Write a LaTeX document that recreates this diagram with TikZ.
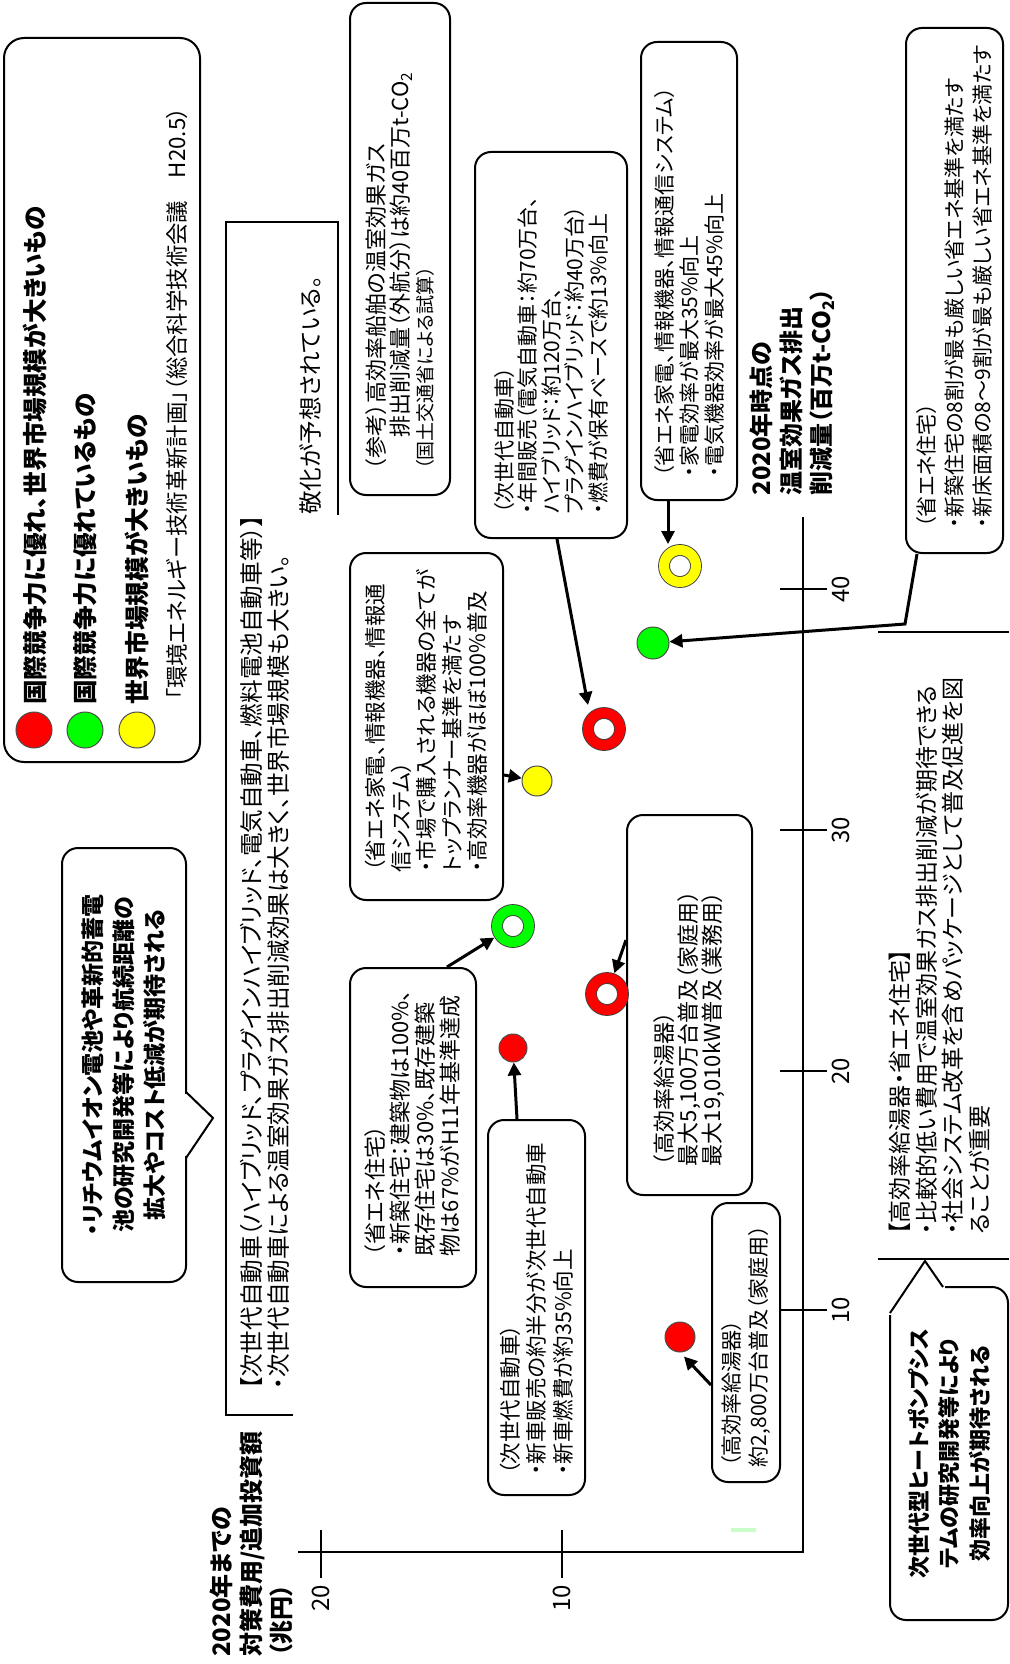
\documentclass[tikz,border=0pt]{standalone}
\usepackage{fontspec}
\setmainfont{Noto Sans CJK JP}[RawFeature=+palt]
\usepackage{tikz}
\usetikzlibrary{arrows.meta}

\definecolor{mkred}{RGB}{255,0,0}
\definecolor{mkgreen}{RGB}{0,255,0}
\definecolor{mkyellow}{RGB}{255,255,0}
\definecolor{faintgreen}{RGB}{200,255,200}

\begin{document}
\begin{tikzpicture}[x=0.5pt, y=-0.5pt, >={Triangle[length=6.5pt,width=6.5pt]}]
	\tikzstyle{every node} = [rotate=90, inner sep=0pt]
	\tikzset{
		box/.style = {draw, line width=1pt, rounded corners=8pt, fill=white},
		ring/.style = {circle, minimum size=16pt, draw=black!75, line width=0.45pt, double=#1, double distance=5pt, fill=white, outer sep=3pt},
		dot/.style = {circle, fill=#1, draw=black!70, line width=0.5pt},
		pointer/.style = {->, line width=1.5pt},
		rule/.style = {line width=0.75pt}
	}
	\useasboundingbox (0,0) rectangle (1009,1664);

	% note on next generation vehicles (open frame)
	\draw [rule] (293,1415) -- (226,1415) -- (226,222) -- (338,222) -- (338,515);
	\node [anchor=west, align=left, font={\fontsize{11.8}{13.5}\selectfont}] (carNote) at (265,1390)
		{【次世代自動車（ハイブリッド、プラグインハイブリッド、電気自動車、燃料電池自動車等）】\\・次世代自動車による温室効果ガス排出削減効果は大きく、世界市場規模も大きい。};
	\node [anchor=west, font={\fontsize{11.8}{13.5}\selectfont}] (carNoteEnd) at (310,515) {敬化が予想されている。};

	% legend
	\node [box, rounded corners=10pt, minimum width=362pt, minimum height=98pt] (legend) at (102,400) {};
	\node [dot=mkred, minimum size=18pt]    (keyRed)    at (34,730)  {};
	\node [dot=mkgreen, minimum size=18pt]  (keyGreen)  at (85,730)  {};
	\node [dot=mkyellow, minimum size=18pt] (keyYellow) at (137,730) {};
	\node [anchor=west, font={\fontsize{12.3}{14}\selectfont\bfseries}] (keyRedTxt)    at (35,705)  {国際競争力に優れ、世界市場規模が大きいもの};
	\node [anchor=west, font={\fontsize{12.3}{14}\selectfont\bfseries}] (keyGreenTxt)  at (85,705)  {国際競争力に優れているもの};
	\node [anchor=west, font={\fontsize{12.3}{14}\selectfont\bfseries}] (keyYellowTxt) at (137,705) {世界市場規模が大きいもの};
	\node [anchor=west, font={\fontsize{11.2}{13}\selectfont}] (keySource) at (177,700) {「環境エネルギー技術革新計画」（総合科学技術会議　H20.5）};

	% callouts with a tail
	\node [box, align=center, minimum width=217pt, minimum height=62pt, font={\fontsize{11.5}{15.5}\selectfont\bfseries}] (battery) at (124,1065)
		{・リチウムイオン電池や革新的蓄電\\池の研究開発等により航続距離の\\拡大やコスト低減が期待される};
	\fill [white] (184,1094) rectangle (189,1156);
	\draw [line width=1pt] (186,1092) -- (213,1118) -- (186,1158);

	\node [box, align=center, minimum width=166.5pt, minimum height=59pt, font={\fontsize{11}{15.25}\selectfont\bfseries}] (heatPump) at (949,1453.5)
		{次世代型ヒートポンプシス\\テムの研究開発等により\\効率向上が期待される};
	\fill [white] (886,1283) rectangle (945,1293);
	\fill [white] (886,1283) rectangle (897,1315);
	\draw [line width=1pt] (890,1313) -- (925,1261) -- (943,1287);

	% measure boxes
	\node [box, align=left, text width=221pt, minimum width=246pt, minimum height=50pt, font={\fontsize{11}{12}\selectfont}] (shipRef) at (400,249)
		{（参考）高効率船舶の温室効果ガス\\\hspace*{1.5em}排出削減量（外航分）は約40百万t-CO\textsubscript{2}\\{\fontsize{9.5}{10}\selectfont （国土交通省による試算）}};
	\node [box, align=left, text width=169pt, minimum width=193pt, minimum height=76pt, font={\fontsize{10.5}{11.75}\selectfont}] (carA) at (551,345)
		{（次世代自動車）\\・年間販売（電気自動車：約70万台、\\ハイブリッド：約120万台、\\プラグインハイブリッド：約40万台）\\・燃費が保有ベースで約13\%向上};
	\node [box, align=left, text width=206pt, minimum width=229pt, minimum height=48pt, font={\fontsize{10.5}{12.5}\selectfont}] (applA) at (689,271)
		{（省エネ家電、情報機器、情報通信システム）\\・家電効率が最大35\%向上\\・電気機器効率が最大45\%向上};
	\node [box, align=left, text width=237.5pt, minimum width=262.5pt, minimum height=48.5pt, font={\fontsize{10.5}{14}\selectfont}] (houseA) at (954.5,290.5)
		{（省エネ住宅）\\・新築住宅の8割が最も厳しい省エネ基準を満たす\\・新床面積の8～9割が最も厳しい省エネ基準を満たす};
	\node [box, align=left, text width=145.5pt, minimum width=173.5pt, minimum height=76.5pt, font={\fontsize{10.75}{12.75}\selectfont}] (applB) at (426.5,726.5)
		{（省エネ家電、情報機器、情報通\\信システム）\\・市場で購入される機器の全てが\\トップランナー基準を満たす\\・高効率機器がほぼ100\%普及};
	\node [box, align=left, text width=128.5pt, minimum width=159.5pt, minimum height=63pt, font={\fontsize{11}{12.5}\selectfont}] (houseB) at (413,1127.5)
		{（省エネ住宅）\\・新築住宅：建築物は100\%、\\既存住宅は30\%、既存建築\\物は67\%がH11年基準達成};
	\node [box, align=left, text width=167.5pt, minimum width=187.5pt, minimum height=48.5pt, font={\fontsize{10.75}{13.25}\selectfont}] (carB) at (536.5,1307.5)
		{（次世代自動車）\\・新車販売の約半分が次世代自動車\\・新車燃費が約35\%向上};
	\node [box, align=left, text width=161pt, minimum width=190pt, minimum height=62.5pt, font={\fontsize{11}{12}\selectfont}] (heaterA) at (689.5,1005)
		{（高効率給湯器）\\最大5,100万台普及（家庭用）\\最大19,010kW普及（業務用）};
	\node [box, align=left, text width=124.5pt, minimum width=139.5pt, minimum height=34pt, font={\fontsize{10.5}{13.5}\selectfont}] (heaterB) at (746,1342.5)
		{（高効率給湯器）\\約2,800万台普及（家庭用）};

	% package note
	\draw [rule] (878,632) -- (1009,632);
	\draw [rule] (878,1259) -- (1009,1259);
	\node [anchor=west, align=left, font={\fontsize{11.5}{13.25}\selectfont}] (package) at (939.5,1235)
		{【高効率給湯器・省エネ住宅】\\・比較的低い費用で温室効果ガス排出削減が期待できる\\・社会システム改革を含めパッケージとして普及促進を図\\ることが重要};

	% axes
	\draw [line width=1pt] (803,517) -- (803,1552) -- (298,1552);
	\foreach \py/\val in {589/40, 830/30, 1071/20, 1310/10} {
		\draw [line width=1pt] (780,\py) -- (827,\py);
		\node [font={\fontsize{12}{14}\selectfont}] (xt\val) at (841,\py) {\val};
	}
	\foreach \px/\val in {321/20, 562/10} {
		\draw [line width=1pt] (\px,1530) -- (\px,1578);
		\node [font={\fontsize{12}{14}\selectfont}] (yt\val) at (\px,1598) {\val};
	}
	\draw [line width=2pt, faintgreen] (731,1530) -- (756,1530);
	\node [anchor=west, align=left, font={\fontsize{12}{15}\selectfont\bfseries}] (xLabel) at (792,496)
		{2020年時点の\\温室効果ガス排出\\削減量（百万t-CO\textsubscript{2}）};
	\node [anchor=west, align=left, font={\fontsize{12}{15}\selectfont\bfseries}] (yLabel) at (251,1657)
		{2020年までの\\対策費用/追加投資額\\（兆円）};

	% measures in the chart
	\node [ring=mkyellow] (ringAppl)  at (680,566)  {};
	\node [dot=mkgreen, minimum size=16pt] (dotHouse) at (653,643) {};
	\node [ring=mkred]    (ringCar)   at (604,729)  {};
	\node [dot=mkyellow, minimum size=15pt] (dotAppl) at (537,781) {};
	\node [ring=mkgreen]  (ringHouse) at (513,926)  {};
	\node [ring=mkred]    (ringHeater) at (607,994) {};
	\node [dot=mkred, minimum size=14pt] (dotCar) at (513,1048) {};
	\node [dot=mkred, minimum size=15pt] (dotHeater) at (680,1337) {};

	\draw [pointer] ([xshift=3pt]carA.west) -- ([xshift=-8pt,yshift=1pt]ringCar.east);
	\draw [pointer] ([xshift=-10.5pt]applA.west) -- ([xshift=-6pt]ringAppl.east);
	\draw [pointer] ([xshift=-18.75pt]houseA.west) -- ++(-12,70) -- (dotHouse);
	\draw [pointer] ([yshift=-24.25pt]applB.south) -- (dotAppl);
	\draw [pointer] ([xshift=17pt]houseB.east) -- (ringHouse);
	\draw [pointer] ([xshift=-9.75pt]carB.east) -- (dotCar);
	\draw [pointer] ([yshift=32.5pt]heaterA.north) -- (ringHeater);
	\draw [pointer] ([yshift=-21.25pt]heaterB.north) -- ([xshift=2pt,yshift=-2pt]dotHeater.west);
\end{tikzpicture}
\end{document}
